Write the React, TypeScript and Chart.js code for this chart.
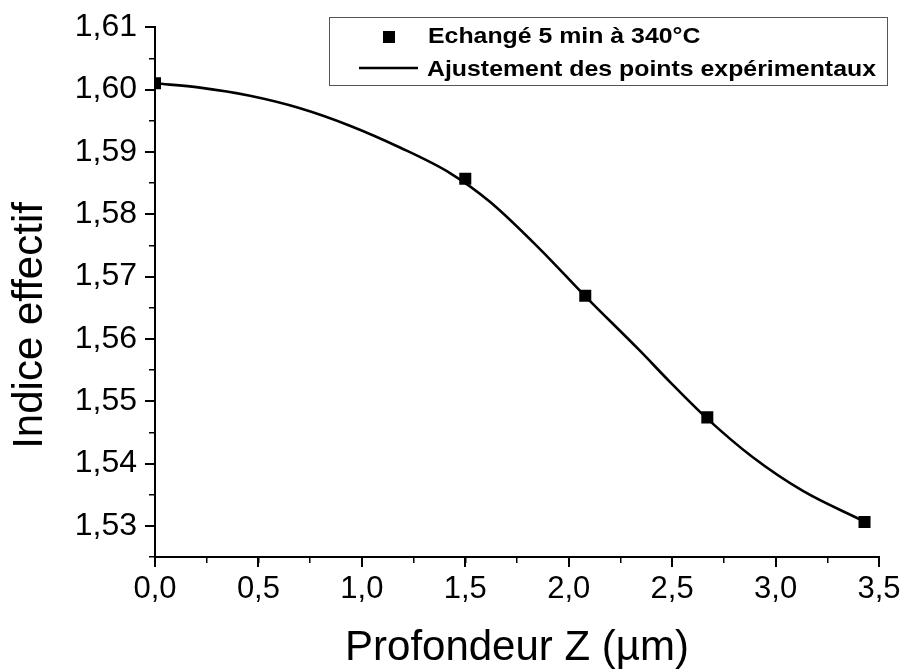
import React, { useEffect, useRef } from 'react';
import { Chart, registerables } from 'chart.js';

Chart.register(...registerables);

// Experimental points
const depthZ = [0, 1.5, 2.08, 2.67, 3.43];
const effIndex = [1.601, 1.5857, 1.5669, 1.5474, 1.5306];

// Fitted curve
const fitZ = [0, 0.2175, 0.459, 0.701, 0.942, 1.184, 1.426, 1.619, 1.861, 2.078, 2.344, 2.489, 2.663, 2.89, 3.132, 3.422];
const fitIndex = [1.601, 1.6003, 1.599, 1.597, 1.5942, 1.5907, 1.5866, 1.582, 1.5744, 1.5669, 1.5581, 1.5531, 1.5474, 1.541, 1.5356, 1.5308];

const seriesLabels = ['Echangé 5 min à 340°C', 'Ajustement des points expérimentaux'];
const xTitle = 'Profondeur Z (µm)';
const yTitle = 'Indice effectif';

const FONT = '"Liberation Sans", Arial, Helvetica, sans-serif';

const boxLegend = {
  id: 'boxLegend',
  afterDraw(chart: any) {
    const ctx = chart.ctx as CanvasRenderingContext2D;
    const ds = chart.data.datasets;
    ctx.save();
    ctx.strokeStyle = '#555';
    ctx.lineWidth = 1;
    ctx.strokeRect(329.5, 17.5, 558, 68);
    ctx.fillStyle = '#000';
    ctx.fillRect(383, 31, 12, 12);
    ctx.beginPath();
    ctx.moveTo(359, 68);
    ctx.lineTo(418, 68);
    ctx.lineWidth = 2.5;
    ctx.strokeStyle = '#000';
    ctx.stroke();
    ctx.font = 'bold 22px ' + FONT;
    ctx.textBaseline = 'alphabetic';
    ctx.textAlign = 'left';
    ctx.save();
    ctx.translate(428, 43);
    ctx.scale(1.13, 1);
    ctx.fillText(ds[0].label, 0, 0);
    ctx.restore();
    ctx.save();
    ctx.translate(427, 76);
    ctx.scale(1.13, 1);
    ctx.fillText(ds[1].label, 0, 0);
    ctx.restore();
    ctx.restore();
  },
};

export default function App() {
  const ref = useRef<HTMLCanvasElement | null>(null);

  useEffect(() => {
    document.body.style.margin = '0';
    const canvas = ref.current;
    if (!canvas) return;
    const fmt2 = (v: any) => Number(v).toFixed(2).replace('.', ',');
    const fmt1 = (v: any) => Number(v).toFixed(1).replace('.', ',');
    const chart = new Chart(canvas, {
      type: 'scatter',
      data: {
        datasets: [
          {
            label: seriesLabels[0],
            data: depthZ.map((x, i) => ({ x, y: effIndex[i] })),
            pointStyle: 'rect',
            pointRadius: 8.5,
            pointBorderWidth: 0,
            backgroundColor: '#000',
            borderColor: '#000',
            showLine: false,
            xAxisID: 'x',
            yAxisID: 'y',
            clip: { left: 0, top: 20, right: 20, bottom: 20 },
            order: 0,
          } as any,
          {
            label: seriesLabels[1],
            data: fitZ.map((x, i) => ({ x, y: fitIndex[i] })),
            showLine: true,
            borderColor: '#000',
            borderWidth: 2.6,
            pointRadius: 0,
            cubicInterpolationMode: 'monotone',
            fill: false,
            xAxisID: 'x',
            yAxisID: 'y',
            order: 1,
          } as any,
        ],
      },
      options: {
        animation: false,
        responsive: false,
        devicePixelRatio: 1,
        layout: { padding: { top: 24, right: 27, left: 0, bottom: 0 } },
        plugins: { legend: { display: false }, tooltip: { enabled: false } },
        scales: {
          x: {
            type: 'linear',
            position: 'bottom',
            min: 0,
            max: 3.5,
            weight: 1,
            ticks: { stepSize: 0.5, padding: 4, color: '#000', font: { family: FONT, size: 31 }, callback: fmt1 },
            grid: { drawOnChartArea: false, drawTicks: true, tickLength: 10, color: '#000', lineWidth: 2 },
            border: { display: true, color: '#000', width: 2 },
            title: { display: true, text: xTitle, color: '#000', font: { family: FONT, size: 42, lineHeight: 1 }, padding: { top: 0, bottom: 2.5 } },
            afterFit: (s: any) => { s.height = 115; },
          },
          xMinor: {
            type: 'linear',
            position: 'bottom',
            min: 0,
            max: 3.5,
            weight: 0,
            ticks: { stepSize: 0.25, display: false },
            grid: { drawOnChartArea: false, drawTicks: true, tickLength: 6, color: '#000', lineWidth: 1.5 },
            border: { display: false },
            afterFit: (s: any) => { s.height = 0; },
          },
          y: {
            type: 'linear',
            position: 'left',
            min: 1.525,
            max: 1.61,
            weight: 1,
            ticks: { stepSize: 0.01, includeBounds: false, padding: 8, color: '#000', font: { family: FONT, size: 32 }, callback: fmt2 },
            grid: { drawOnChartArea: false, drawTicks: true, tickLength: 10, color: '#000', lineWidth: 2 },
            border: { display: true, color: '#000', width: 2 },
            title: { display: true, text: yTitle + '     \u2009', color: '#000', font: { family: FONT, size: 42, lineHeight: 1 }, padding: { top: 9.5, bottom: 0 } },
            afterFit: (s: any) => { s.width = 155; },
          },
          yMinor: {
            type: 'linear',
            position: 'left',
            min: 1.525,
            max: 1.61,
            weight: 0,
            ticks: { stepSize: 0.005, display: false },
            grid: { drawOnChartArea: false, drawTicks: true, tickLength: 6, color: '#000', lineWidth: 1.5 },
            border: { display: false },
            afterFit: (s: any) => { s.width = 0; },
          },
        },
      } as any,
      plugins: [boxLegend],
    });
    return () => chart.destroy();
  }, []);

  return (
    <div style={{ width: 906, height: 672, background: '#fff' }}>
      <canvas ref={ref} width={906} height={672} style={{ display: 'block' }} />
    </div>
  );
}
